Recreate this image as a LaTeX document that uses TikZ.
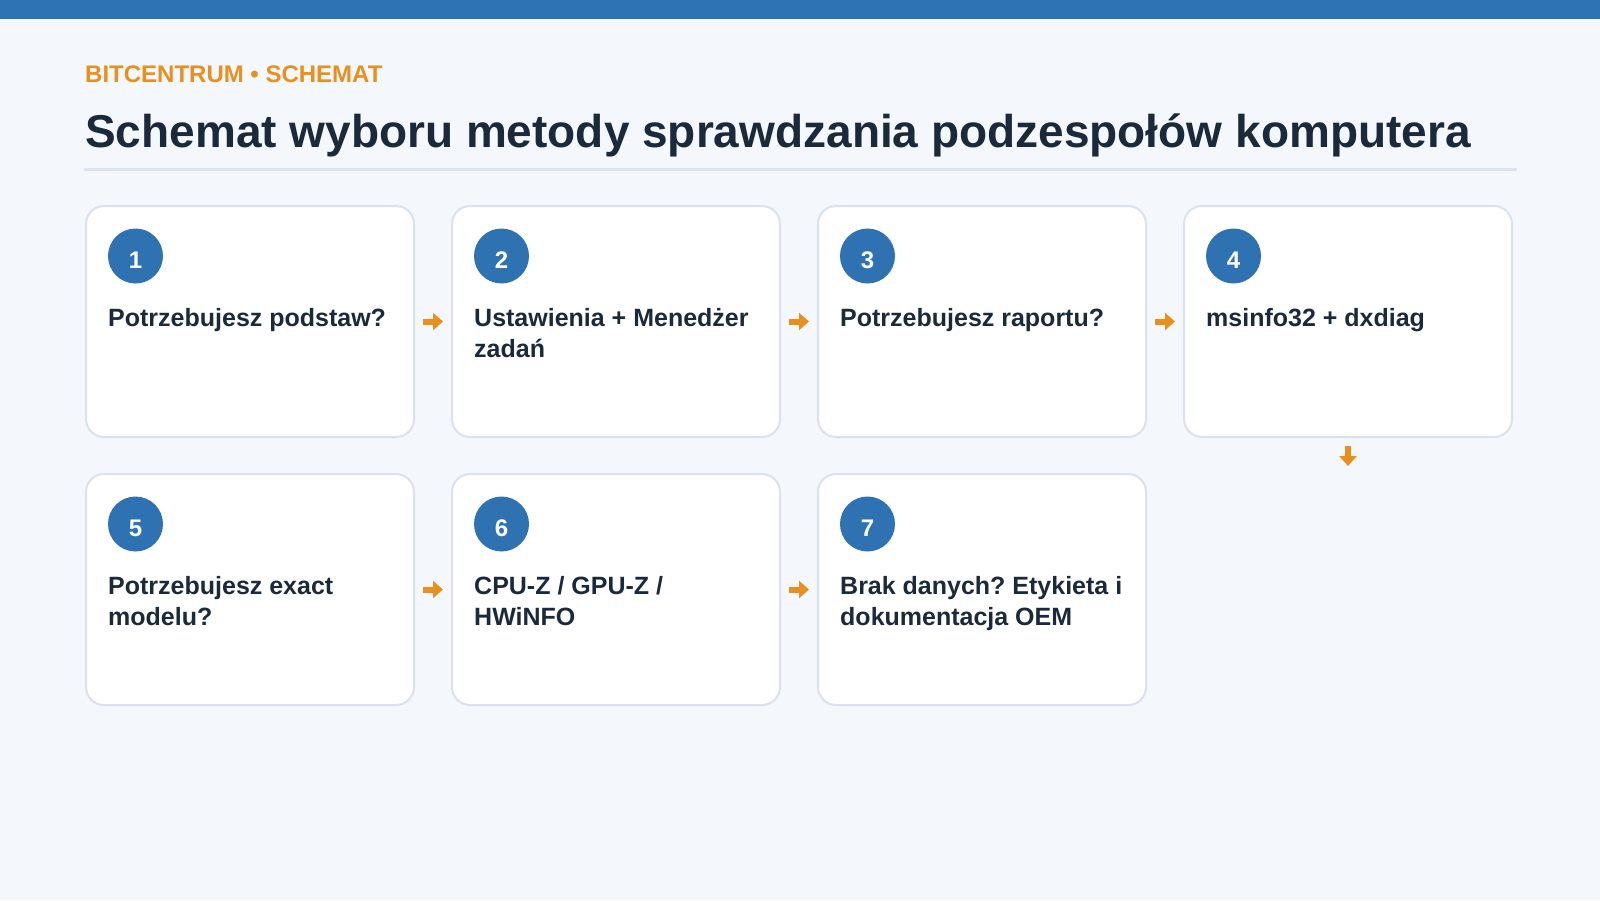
\documentclass[tikz,border=0pt]{standalone}
\usepackage{fontspec}
\setmainfont{Liberation Sans}
\usetikzlibrary{arrows.meta,positioning}
\frenchspacing

\definecolor{pagebg}{HTML}{F4F7FB}
\definecolor{topbar}{HTML}{2E74B5}
\definecolor{accent}{HTML}{E8901F}
\definecolor{ink}{HTML}{1B2A3B}
\definecolor{rulegray}{HTML}{DAE3EE}
\definecolor{cardline}{HTML}{D9E2EE}
\definecolor{badgeblue}{HTML}{2E72B2}

\newcommand{\cardlines}[1]{\parbox[t]{300pt}{\raggedright #1}}

\tikzset{
	card/.style={draw=cardline,line width=2pt,fill=white,rounded corners=18pt,minimum width=328pt,minimum height=231pt,inner sep=0},
	badge/.style={circle,fill=badgeblue,inner sep=0,minimum size=55pt,text=white,text height=24pt,text depth=0pt,font=\fontsize{24}{24}\selectfont\bfseries},
	cardtext/.style={anchor=base west,inner sep=0,text=ink,font=\fontsize{25}{31.25}\selectfont\bfseries},
	flow/.style={draw=accent,line width=6pt,-{Triangle[length=10pt,width=17pt]},shorten <=8pt,shorten >=8pt}
}

\begin{document}
\begin{tikzpicture}[x=1pt,y=-1pt]
	\fill[pagebg] (0,0) rectangle (1600,900);
	\fill[topbar] (0,0) rectangle (1600,19);
	\node[anchor=base west,inner sep=0,text=accent,font=\fontsize{24}{24}\selectfont\bfseries] (kicker) at (85,82) {BITCENTRUM • SCHEMAT};
	\node[anchor=base west,inner sep=0,text=ink,font=\fontsize{46}{46}\selectfont\bfseries] (title) at (85,147) {Schemat wyboru metody sprawdzania podzespołów komputera};
	\draw[rulegray,line width=3pt] (84,169.5) -- (1517,169.5);

	% top row
	\node[card] (c1) at (250,321.5) {};
	\node[card] (c2) at (616,321.5) {};
	\node[card] (c3) at (982,321.5) {};
	\node[card] (c4) at (1348,321.5) {};
	% bottom row
	\node[card] (c5) at (250,589.5) {};
	\node[card] (c6) at (616,589.5) {};
	\node[card] (c7) at (982,589.5) {};

	\node[badge] (n1) at ([shift={(50.5,51)}]c1.north west) {1};
	\node[badge] (n2) at ([shift={(50.5,51)}]c2.north west) {2};
	\node[badge] (n3) at ([shift={(50.5,51)}]c3.north west) {3};
	\node[badge] (n4) at ([shift={(50.5,51)}]c4.north west) {4};
	\node[badge] (n5) at ([shift={(50.5,51)}]c5.north west) {5};
	\node[badge] (n6) at ([shift={(50.5,51)}]c6.north west) {6};
	\node[badge] (n7) at ([shift={(50.5,51)}]c7.north west) {7};

	\node[cardtext] (t1) at (108,326) {\cardlines{Potrzebujesz podstaw?}};
	\node[cardtext] (t2) at (474,326) {\cardlines{Ustawienia + Menedżer\\zadań}};
	\node[cardtext] (t3) at (840,326) {\cardlines{Potrzebujesz raportu?}};
	\node[cardtext] (t4) at (1206,326) {\cardlines{msinfo32 + dxdiag}};
	\node[cardtext] (t5) at (108,594) {\cardlines{Potrzebujesz exact\\modelu?}};
	\node[cardtext] (t6) at (474,594) {\cardlines{CPU-Z / GPU-Z /\\HWiNFO}};
	\node[cardtext] (t7) at (840,594) {\cardlines{Brak danych? Etykieta i\\dokumentacja OEM}};

	\coordinate (below4) at (1348,474);
	\draw[flow] (c1) -- (c2);
	\draw[flow] (c2) -- (c3);
	\draw[flow] (c3) -- (c4);
	\draw[flow] (c4) -- (below4);
	\draw[flow] (c5) -- (c6);
	\draw[flow] (c6) -- (c7);
\end{tikzpicture}
\end{document}
